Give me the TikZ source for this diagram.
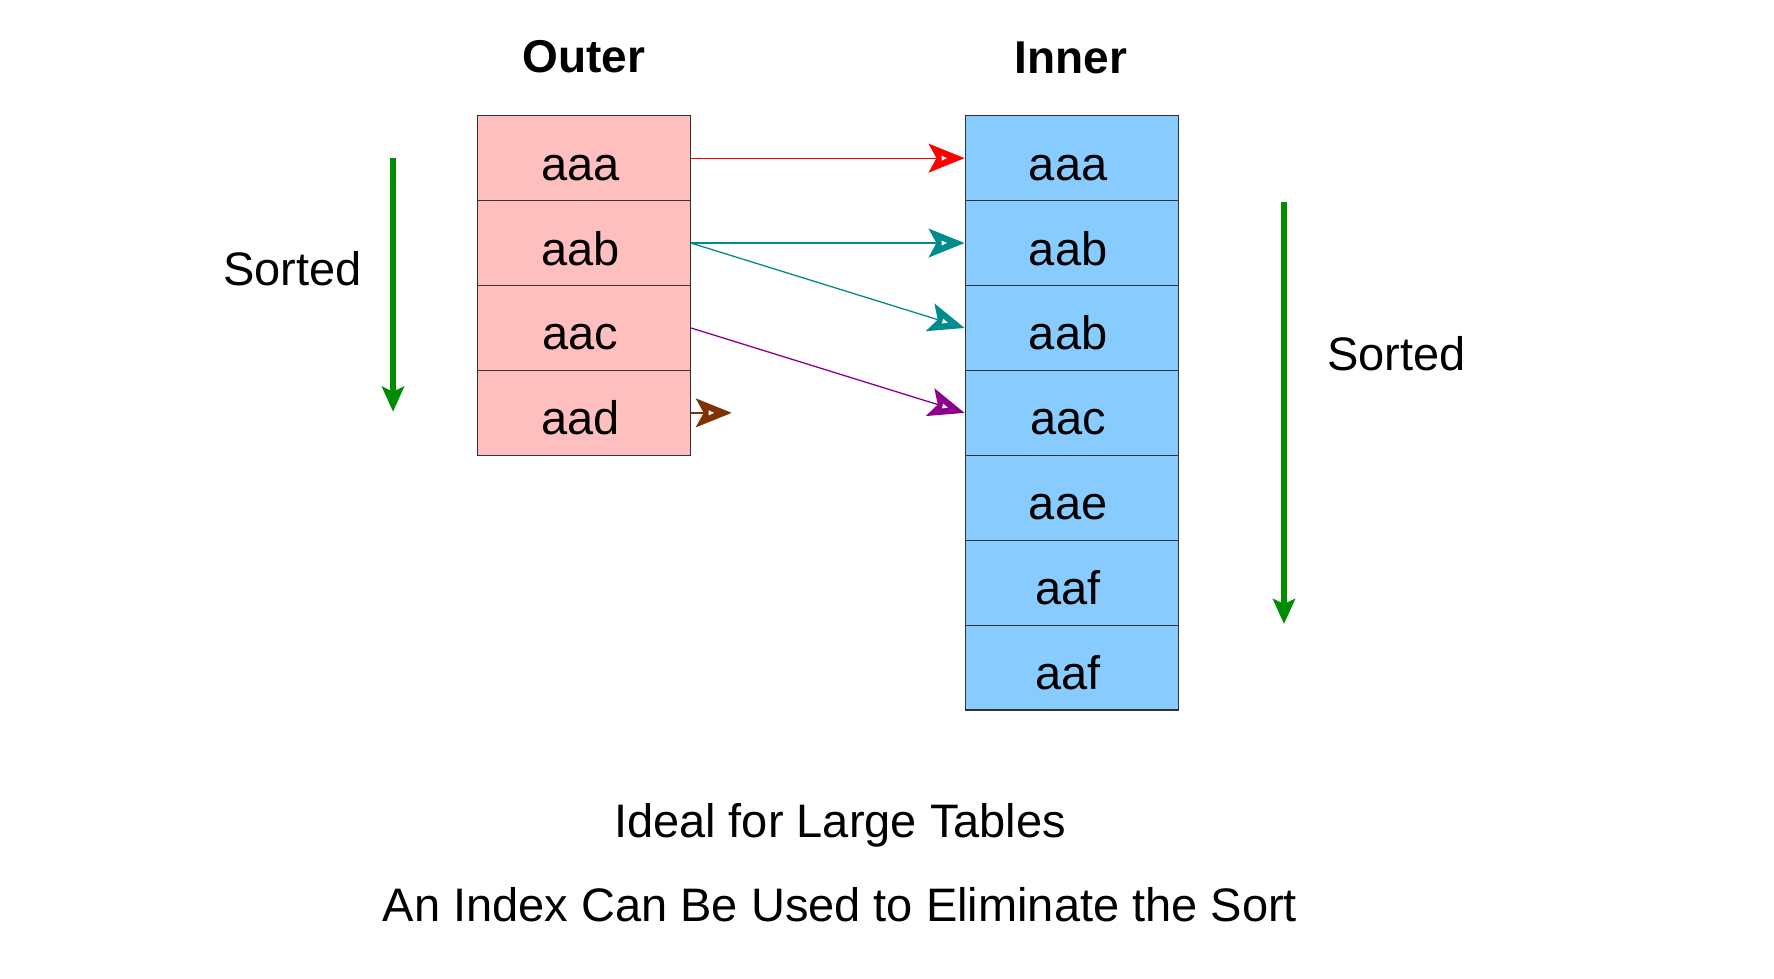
\documentclass[tikz,border=0pt]{standalone}
\usepackage{fontspec}
\setmainfont{Liberation Sans}
\usetikzlibrary{arrows.meta,decorations.markings}
\definecolor{pinkfill}{RGB}{255,191,191}
\definecolor{bluefill}{RGB}{136,204,255}
\definecolor{boxline}{RGB}{50,50,50}
\definecolor{tealc}{RGB}{0,140,140}
\definecolor{purplec}{RGB}{140,0,140}
\definecolor{brownc}{RGB}{128,51,0}
\definecolor{greenc}{RGB}{0,140,0}
\tikzset{
  cell/.style={draw=boxline, line width=1.2pt, minimum width=213pt, minimum height=84.9pt,
    inner sep=0pt, text height=44pt, text depth=0pt, font=\fontsize{47}{56}\selectfont,
    execute at begin node={\hspace*{-7pt}}},
  outercell/.style={cell, fill=pinkfill},
  innercell/.style={cell, fill=bluefill},
  label/.style={anchor=base, inner sep=0pt, font=\fontsize{47}{56}\selectfont},
  title/.style={anchor=base, inner sep=0pt, font=\fontsize{46}{56}\selectfont\bfseries},
  conn/.style={line width=1.3pt, -{Stealth[length=36pt,width=29pt,inset=8pt]}},
  notchmark/.style={decorate, decoration={markings, mark=at position 1 with {
      \fill[white] (-23pt,-2.5pt) -- (-17.5pt,0pt) -- (-23pt,2.5pt) -- cycle;}}},
  sortarrow/.style={draw=greenc, line width=6.5pt, -{Stealth[length=25pt,width=22pt,inset=5pt]}},
}
\begin{document}
\begin{tikzpicture}[x=1pt,y=-1pt]
\useasboundingbox[fill=white] (0,0) rectangle (1774,979);
% titles
\node[title] (tout) at (584,72.7) {Outer};
\node[title] (tin) at (1071,73.3) {Inner};
% outer column
\node[outercell] (o1) at (583.85,158.15) {aaa};
\node[outercell] (o2) at (583.85,243.05) {aab};
\node[outercell] (o3) at (583.85,327.95) {aac};
\node[outercell] (o4) at (583.85,412.85) {aad};
% inner column
\node[innercell] (i1) at (1071.6,158.15) {aaa};
\node[innercell] (i2) at (1071.6,243.05) {aab};
\node[innercell] (i3) at (1071.6,327.95) {aab};
\node[innercell] (i4) at (1071.6,412.85) {aac};
\node[innercell] (i5) at (1071.6,497.75) {aae};
\node[innercell] (i6) at (1071.6,582.65) {aaf};
\node[innercell] (i7) at (1071.6,667.55) {aaf};
% connectors
\coordinate (bend) at (731.7,412.85);
\draw[conn, red] (o1.east) -- (i1.west);
\draw[conn, tealc] (o2.east) -- (i2.west);
\draw[conn, tealc] (o2.east) -- (i3.west);
\draw[conn, purplec] (o3.east) -- (i4.west);
\draw[conn, brownc] (o4.east) -- (bend);
\path[notchmark] (o1.east) -- (i1.west);
\path[notchmark] (o2.east) -- (i2.west);
\path[notchmark] (o2.east) -- (i3.west);
\path[notchmark] (o3.east) -- (i4.west);
\path[notchmark] (o4.east) -- (bend);
% sorted arrows
\coordinate (lt) at (393,158.3);
\coordinate (lb) at (393,411.7);
\coordinate (rt) at (1284,201.7);
\coordinate (rb) at (1284,624);
\draw[sortarrow] (lt) -- (lb);
\draw[sortarrow] (rt) -- (rb);
\node[label] (ls) at (292.5,285) {Sorted};
\node[label] (rs) at (1396.5,370.7) {Sorted};
% bottom text
\node[label] (b1) at (840,837.3) {Ideal for Large Tables};
\node[label] (b2) at (840,921.7) {An Index Can Be Used to Eliminate the Sort};
\end{tikzpicture}
\end{document}
